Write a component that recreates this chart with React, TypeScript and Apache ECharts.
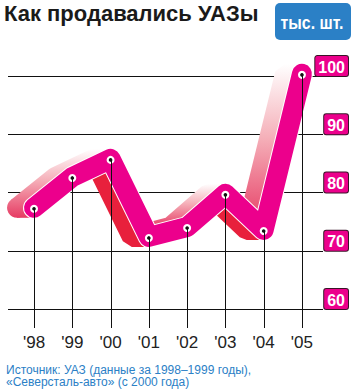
import React, { useEffect, useRef } from 'react';
import * as echarts from 'echarts';

const years = ["'98", "'99", "'00", "'01", "'02", "'03", "'04", "'05"];
const sales = [77.2, 82.5, 85.6, 72.2, 73.9, 79.6, 73.4, 100.2];
const yTicks = [60, 70, 80, 90, 100];
const titleText = 'Как продавались УАЗы';
const unitText = 'тыс. шт.';
const sourceLines = ['Источник: УАЗ (данные за 1998–1999 годы),', '«Северсталь-авто» (с 2000 года)'];

const MAGENTA = '#ec008c';
const RED = '#e8203c';
const BLUE = '#2b80c6';
const SANS = '"Liberation Sans", Arial, sans-serif';

type Pt = number[];

function ribbonRender(params: any, api: any) {
  const C: Pt[] = sales.map((v, i) => {
    const p = api.coord([i, v]);
    return [p[0], p[1] - 1];
  });
  const h = 10;
  const dx = -17;
  const segs = [] as { up: Pt; down: Pt; rising: boolean }[];
  for (let i = 0; i < C.length - 1; i++) {
    const A = C[i], B = C[i + 1];
    const ddx = B[0] - A[0], ddy = B[1] - A[1];
    const len = Math.hypot(ddx, ddy);
    const up = [ddy / len, -ddx / len];
    segs.push({ up, down: [-up[0], -up[1]], rising: ddy < 0 });
  }
  const runs: { s: number; e: number; rising: boolean }[] = [];
  segs.forEach((sg, i) => {
    const last = runs[runs.length - 1];
    if (last && last.rising === sg.rising) last.e = i;
    else runs.push({ s: i, e: i, rising: sg.rising });
  });
  const add = (p: Pt, n: Pt, k: number) => [p[0] + n[0] * k, p[1] + n[1] * k];
  const shifted = (b: Pt[]) => b.slice().reverse().map((p) => [p[0] + dx, p[1]]);

  const gradChildren: any[] = [];
  const redChildren: any[] = [];
  runs.forEach((r) => {
    const b: Pt[] = [];
    for (let k = r.s; k <= r.e; k++) {
      const n = r.rising ? segs[k].up : segs[k].down;
      b.push(add(C[k], n, h), add(C[k + 1], n, h));
    }
    const end = C[r.e + 1];
    b.push([end[0], end[1] + (r.rising ? -h : h)]);
    const poly = b.concat(shifted(b));
    if (r.rising) {
      const minY = Math.min(...poly.map((p) => p[1]));
      let maxY = Math.max(...poly.map((p) => p[1]));
      if (r.s === 0) maxY = Math.max(maxY, C[0][1] + h);
      const grad = new echarts.graphic.LinearGradient(0, minY, 0, maxY, [
        { offset: 0, color: '#ffffff' },
        { offset: 0.45, color: '#f5b0b9' },
        { offset: 1, color: '#e63b63' },
      ], true);
      if (r.s === 0) {
        gradChildren.push({
          type: 'rect',
          shape: { x: C[0][0] + dx, y: C[0][1] - h, width: -dx, height: 2 * h },
          style: { fill: grad },
        });
        gradChildren.push({
          type: 'circle',
          shape: { cx: C[0][0] + dx, cy: C[0][1], r: h },
          style: { fill: grad },
        });
      }
      gradChildren.push({ type: 'polygon', shape: { points: poly }, style: { fill: grad } });
    } else {
      redChildren.push({ type: 'polygon', shape: { points: poly }, style: { fill: RED } });
    }
  });

  return {
    type: 'group',
    children: [
      ...gradChildren,
      ...redChildren,
      {
        type: 'polyline',
        shape: { points: C },
        style: { stroke: '#ffffff', lineWidth: 2 * h + 2, lineJoin: 'round', lineCap: 'round', fill: null },
      },
      {
        type: 'polyline',
        shape: { points: C },
        style: { stroke: MAGENTA, lineWidth: 2 * h, lineJoin: 'round', lineCap: 'round', fill: null },
      },
    ],
  };
}

function markerRender(params: any, api: any) {
  const i = api.value(0);
  const v = api.value(1);
  const p = api.coord([i, v]);
  const base = api.coord([i, yTicks[0]]);
  return {
    type: 'group',
    children: [
      { type: 'circle', shape: { cx: p[0], cy: p[1], r: 4 }, style: { fill: '#ffffff' } },
      {
        type: 'line',
        shape: { x1: Math.round(p[0]) + 0.5, y1: p[1], x2: Math.round(p[0]) + 0.5, y2: base[1] + 19 },
        style: { stroke: '#111111', lineWidth: 1 },
      },
      { type: 'circle', shape: { cx: p[0], cy: p[1], r: 1.8 }, style: { fill: '#111111' } },
      {
        type: 'text',
        style: {
          x: p[0],
          y: base[1] + 33,
          text: years[i],
          fill: '#222222',
          font: `17px ${SANS}`,
          align: 'center',
          verticalAlign: 'middle',
        },
      },
    ],
  };
}

export default function App() {
  const ref = useRef<HTMLDivElement>(null);
  useEffect(() => {
    document.body.style.margin = '0';
    if (!ref.current) return;
    const chart = echarts.init(ref.current, undefined, { renderer: 'svg' });
    chart.setOption({
      animation: false,
      backgroundColor: '#ffffff',
      grid: { left: 8, right: 31, top: 76, bottom: 80 },
      xAxis: { type: 'value', min: -0.68, max: 7.55, show: false },
      yAxis: {
        type: 'value',
        position: 'right',
        min: yTicks[0],
        max: yTicks[yTicks.length - 1],
        interval: 10,
        axisLine: { show: false },
        axisTick: { show: false },
        splitLine: { show: true, lineStyle: { color: '#111111', width: 1 } },
        axisLabel: {
          show: true,
          margin: 25,
          align: 'right',
          verticalAlign: 'bottom',
          color: '#ffffff',
          fontWeight: 'bold',
          fontSize: 16,
          fontFamily: SANS,
          lineHeight: 18,
          backgroundColor: MAGENTA,
          borderColor: '#3a1428',
          borderWidth: 1,
          borderRadius: 2,
          padding: [2, 3, 0, 3],
          formatter: (v: number) => String(v),
        },
      },
      graphic: [
        {
          type: 'text',
          x: 4,
          y: 13,
          style: { x: 0, y: 0, text: titleText, fill: '#1a1a1a', font: `bold 22px ${SANS}`, verticalAlign: 'middle' },
        },
        {
          type: 'rect',
          shape: { x: 275, y: 3, width: 76, height: 37, r: 5 },
          style: { fill: BLUE },
        },
        {
          type: 'text',
          x: 312,
          y: 23,
          scaleX: 0.88,
          style: {
            x: 0,
            y: 0,
            text: unitText,
            fill: '#ffffff',
            font: `bold 18px ${SANS}`,
            align: 'center',
            verticalAlign: 'middle',
          },
        },
        {
          type: 'text',
          x: 6,
          y: 369.5,
          style: {
            x: 0,
            y: 0,
            text: sourceLines[0],
            fill: BLUE,
            font: `12px ${SANS}`,
            verticalAlign: 'middle',
          },
        },
        {
          type: 'text',
          x: 6,
          y: 382,
          style: {
            x: 0,
            y: 0,
            text: sourceLines[1],
            fill: BLUE,
            font: `12px ${SANS}`,
            verticalAlign: 'middle',
          },
        },
      ],
      series: [
        {
          type: 'custom',
          clip: false,
          data: [[0, sales[0]]],
          renderItem: ribbonRender,
        },
        {
          type: 'custom',
          clip: false,
          data: sales.map((v, i) => [i, v]),
          renderItem: markerRender,
        },
      ],
    });
    return () => chart.dispose();
  }, []);
  return <div ref={ref} style={{ width: 354, height: 389 }} />;
}
